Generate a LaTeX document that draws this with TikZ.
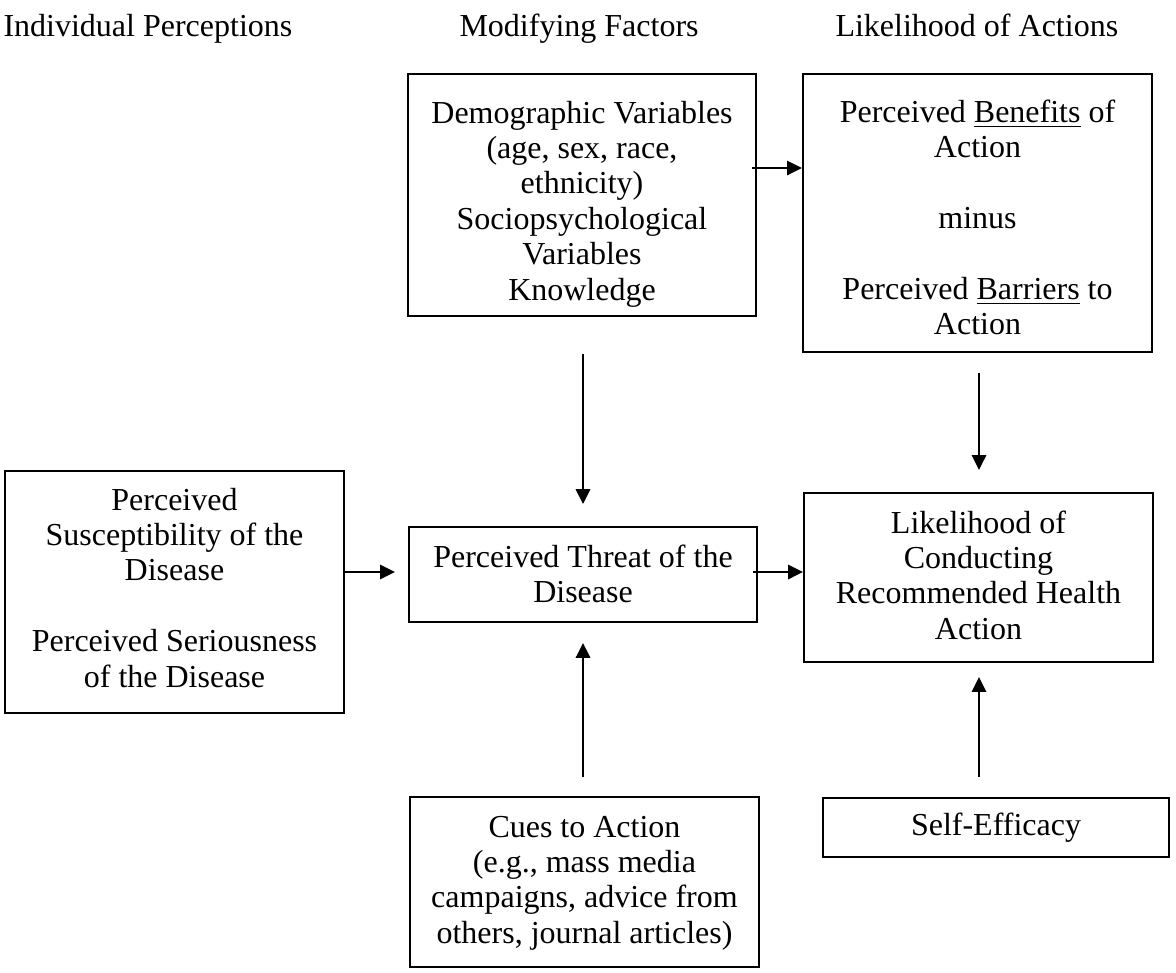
\documentclass[tikz,border=0pt]{standalone}
\usepackage{fontspec}
\setmainfont{Liberation Serif}
\usetikzlibrary{arrows.meta}
\begin{document}
\begin{tikzpicture}[x=0.375pt,y=-0.375pt,
  box/.style={draw, line width=0.75pt, rectangle, inner sep=0pt},
  txt/.style={inner sep=0pt, anchor=base, align=flush center, text width=125pt, font=\fontsize{12}{13.3}\selectfont},
  hdr/.style={inner sep=0pt, anchor=base west, font=\fontsize{12}{13.3}\selectfont},
  arr/.style={line width=0.75pt, -{Triangle[length=5.6pt,width=5.4pt]}}
]
\useasboundingbox (0,0) rectangle (1176,972);

% headers
\node[hdr] (h1) at (3,36) {Individual Perceptions};
\node[hdr] (h2) at (459,36) {Modifying Factors};
\node[hdr] (h3) at (835,36) {Likelihood of Actions};

% boxes
\node[box, minimum width=130.5pt, minimum height=90.75pt] (demo) at (582,195) {};
\node[box, minimum width=130.9pt, minimum height=104.25pt] (ben) at (977.5,213) {};
\node[box, minimum width=127.1pt, minimum height=90.75pt] (sus) at (174.5,592) {};
\node[box, minimum width=130.5pt, minimum height=35.6pt] (thr) at (583,574.5) {};
\node[box, minimum width=130.9pt, minimum height=63.4pt] (lik) at (978.5,577.5) {};
\node[box, minimum width=130.9pt, minimum height=63.75pt] (cue) at (584.5,882) {};
\node[box, minimum width=129.75pt, minimum height=22.1pt] (self) at (996,827.5) {};

% texts
\node[txt] (demot) at (582,123) {Demographic Variables\\(age, sex, race,\\ethnicity)\\Sociopsychological\\Variables\\Knowledge};
\node[txt] (bent) at (977.5,122) {Perceived \underline{Benefits} of\\Action\\[13.3pt]minus\\[13.3pt]Perceived \underline{Barriers} to\\Action};
\node[txt] (sust) at (174.5,510) {Perceived\\Susceptibility of the\\Disease\\[13.3pt]Perceived Seriousness\\of the Disease};
\node[txt] (thrt) at (583,567) {Perceived Threat of the\\Disease};
\node[txt] (likt) at (978.5,533) {Likelihood of\\Conducting\\Recommended Health\\Action};
\node[txt] (cuet) at (584.5,837) {Cues to Action\\(e.g., mass media\\campaigns, advice from\\others, journal articles)};
\node[txt] (selft) at (996,835) {Self-Efficacy};

% connectors
\coordinate (demoOut) at (752,168);
\draw[arr] (demoOut) -- (ben.west |- demoOut);
\draw[arr] ([yshift=-13.9pt]demo.south -| thr.north) -- ([yshift=8.25pt]thr.north);
\draw[arr] ([yshift=-7.5pt]ben.south -| 979,0) -- ([yshift=8.25pt]lik.north -| 979,0);
\draw[arr] (sus.east |- 0,572) -- ([xshift=-4.9pt]thr.west |- 0,572);
\draw[arr] ([xshift=-1.9pt]thr.east |- 0,572) -- (lik.west |- 0,572);
\draw[arr] ([yshift=7.1pt]cue.north -| thr.south) -- ([yshift=-7.5pt]thr.south);
\draw[arr] ([yshift=7.5pt]self.north -| 979,0) -- ([yshift=-5.25pt]lik.south -| 979,0);
\end{tikzpicture}
\end{document}
